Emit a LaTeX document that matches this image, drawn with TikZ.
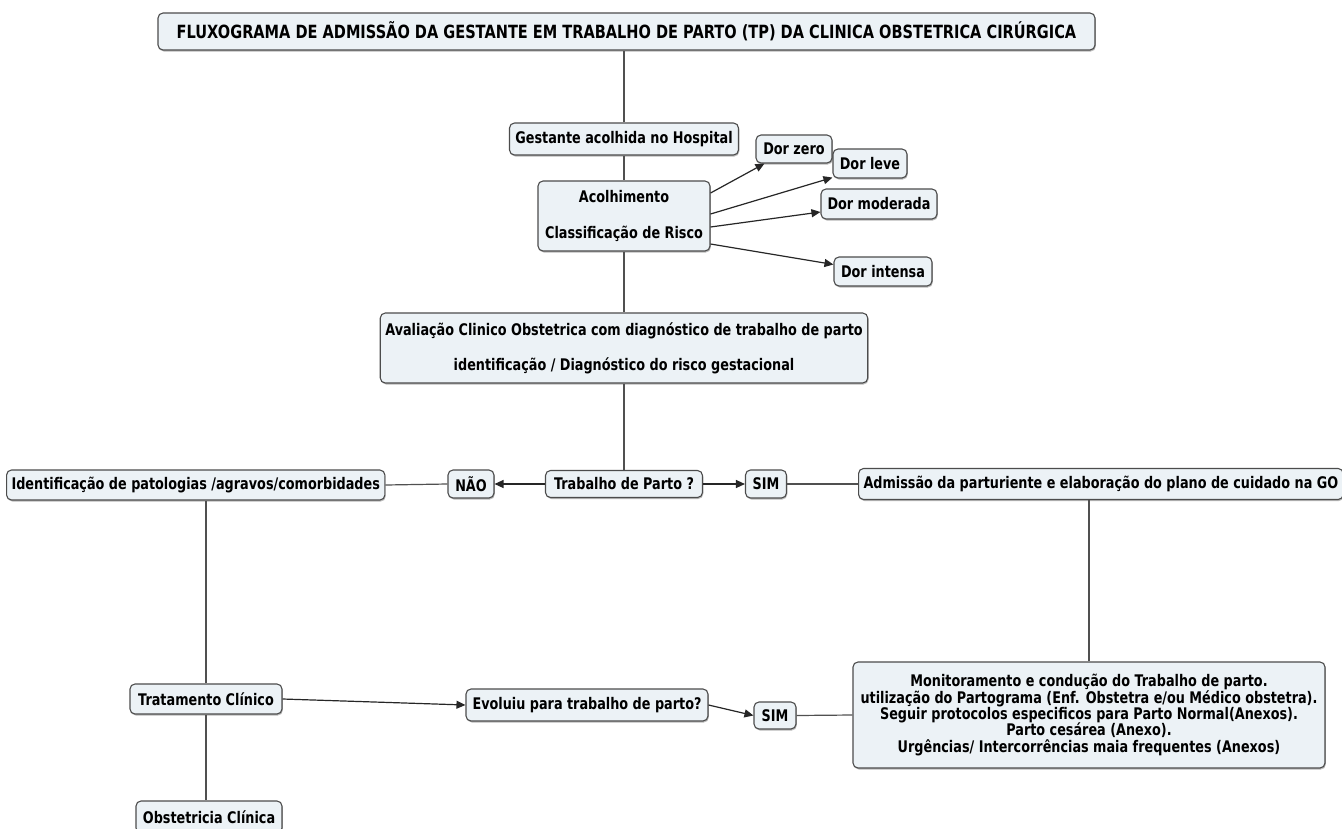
\documentclass[tikz,border=0pt]{standalone}
\usepackage{fontspec}
\newfontfamily\cf[FakeStretch=0.8]{DejaVu Sans}
\usetikzlibrary{arrows.meta,shadows,calc}
\definecolor{boxfill}{RGB}{236,242,246}
\definecolor{edgecol}{RGB}{80,80,80}
\begin{document}
\begin{tikzpicture}[x=1pt,y=-1pt,
  box/.style={draw=black!70, line width=1.1pt, rounded corners=5pt, fill=boxfill,
    font=\cf\bfseries\fontsize{16}{16.4}\selectfont, align=center,
    inner xsep=5pt, inner ysep=3pt,
    drop shadow={shadow xshift=0.8pt, shadow yshift=-1.5pt, fill=black!45, opacity=0.6}},
  link/.style={draw=edgecol, line width=1.2pt},
  arr/.style={draw=black!85, line width=1.2pt, -{Triangle[length=9pt,width=8pt]}}
]
\useasboundingbox[fill=white] (0,0) rectangle (1342,828);

% nodes
\node[box, minimum width=937pt, minimum height=37pt,
  font=\cf\bfseries\fontsize{18.2}{19}\selectfont] (title) at (626.5,31.5)
  {FLUXOGRAMA DE ADMISSÃO DA GESTANTE EM TRABALHO DE PARTO (TP) DA CLINICA OBSTETRICA CIRÚRGICA};
\node[box, minimum width=229pt, minimum height=32pt] (gest) at (624,139) {Gestante acolhida no Hospital};
\node[box, minimum width=172pt, minimum height=70pt] (acol) at (624,216) {Acolhimento\\[20pt]Classificação de Risco};
\node[box, minimum width=76pt, minimum height=28pt] (dzero) at (794,149) {Dor zero};
\node[box, minimum width=74pt, minimum height=29pt] (dleve) at (870,163.5) {Dor leve};
\node[box, minimum width=116pt, minimum height=30pt] (dmod) at (879,204) {Dor moderada};
\node[box, minimum width=98pt, minimum height=29pt] (dint) at (883,271.5) {Dor intensa};
\node[box, minimum width=487pt, minimum height=70pt] (aval) at (624,348)
  {Avaliação Clinico Obstetrica com diagnóstico de trabalho de parto\\[18.5pt]identificação / Diagnóstico do risco gestacional};
\node[box, minimum width=157pt, minimum height=27pt] (trab) at (624,484) {Trabalho de Parto ?};
\node[box, minimum width=46pt, minimum height=28pt] (nao) at (471,484) {NÃO};
\node[box, minimum height=30pt, anchor=west] (ident) at (6,485) {Identificação de patologias /agravos/comorbidades};
\node[box, minimum width=41pt, minimum height=28pt] (sim1) at (766,484) {SIM};
\node[box, minimum height=31pt, anchor=west] (adm) at (858,484) {Admissão da parturiente e elaboração do plano de cuidado na GO};
\node[box, minimum width=472pt, minimum height=106pt] (mon) at (1089,715)
  {Monitoramento e condução do Trabalho de parto.\\
   utilização do Partograma (Enf. Obstetra e/ou Médico obstetra).\\
   Seguir protocolos especificos para Parto Normal(Anexos).\\
   Parto cesárea (Anexo).\\
   Urgências/ Intercorrências maia frequentes (Anexos)};
\node[box, minimum width=152pt, minimum height=30pt] (trat) at (206,699) {Tratamento Clínico};
\node[box, minimum width=242pt, minimum height=32pt] (evol) at (587,705) {Evoluiu para trabalho de parto?};
\node[box, minimum width=42pt, minimum height=27pt] (sim2) at (775,715.5) {SIM};
\node[box, minimum width=146pt, minimum height=32pt] (obst) at (209,817) {Obstetricia Clínica};

% connectors
\draw[link] (gest.north) -- (gest.north |- title.south);
\draw[link] (gest.south) -- (acol.north);
\draw[link] (acol.south) -- (aval.north);
\draw[link] (aval.south) -- (trab.north);
\draw[arr] ($(acol.east)+(0,-23)$) -- ($(dzero.south west)+(9,0)$);
\draw[arr] ($(acol.east)+(0,-2)$) -- ($(dleve.south west)+(0,-1)$);
\draw[arr] ($(acol.east)+(0,11)$) -- ($(dmod.west)+(0,8)$);
\draw[arr] ($(acol.east)+(0,28)$) -- ($(dint.west)+(0,-7)$);
\draw[arr] (trab.west) -- (nao.east);
\draw[link] (nao.west) -- (ident.east);
\draw[arr] (trab.east) -- (sim1.west);
\draw[link] (sim1.east) -- (adm.west);
\draw[link] (mon.north) -- (mon.north |- adm.south);
\draw[link] (trat.north) -- (trat.north |- ident.south);
\draw[arr] (trat.east) -- (evol.west);
\draw[arr] (evol.east) -- (sim2.west);
\draw[link] (sim2.east) -- (mon.west);
\draw[link] (trat.south) -- (trat.south |- obst.north);
\end{tikzpicture}
\end{document}
